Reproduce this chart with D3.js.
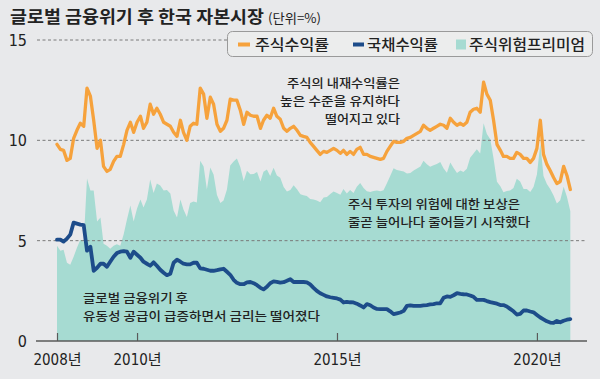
<!DOCTYPE html>
<html><head><meta charset="utf-8">
<script src="https://cdn.jsdelivr.net/npm/d3@7"></script>
<style>
html,body{margin:0;padding:0;background:#e8e9eb;}
svg{display:block;}
text{font-family:"Noto Sans CJK KR","Noto Sans",sans-serif;fill:#222;}
.num{font-family:"Liberation Sans Narrow","DejaVu Sans Condensed","Noto Sans CJK KR",sans-serif;}
</style></head>
<body><svg id="c" width="600" height="379"></svg>
<script>
// ---- data (monthly, Jan 2008 – Nov 2020) ----
const startYear = 2008, startMonth = 0;
const stockYield = [9.8,9.55,9.5,9.0,9.1,10.1,10.5,10.85,10.7,12.6,12.2,11.0,
9.6,10.0,8.7,8.45,8.55,8.95,9.2,9.2,9.8,10.5,10.9,10.4,
10.9,11.2,10.6,10.9,11.8,11.3,11.6,11.3,10.9,10.8,10.7,10.4,
10.2,11.0,10.4,10.0,10.7,10.85,10.8,12.6,12.3,11.1,12.15,11.8,
10.8,10.45,10.6,11.0,12.05,12.0,12.0,11.5,10.8,11.4,11.25,11.2,
11.2,10.6,11.0,11.25,11.1,11.6,11.2,11.05,10.6,10.45,10.6,10.7,
10.5,10.25,10.2,10.15,9.9,9.7,9.5,9.3,9.45,9.4,9.5,9.6,
9.5,9.35,9.5,9.3,9.45,9.3,9.55,9.65,9.3,9.3,9.2,9.15,
9.1,9.05,9.1,9.45,9.7,9.95,9.9,9.9,9.95,10.1,10.15,10.25,
10.35,10.45,10.75,10.6,10.5,10.6,10.7,10.8,10.75,10.6,11.1,10.9,
10.75,10.85,10.75,10.9,11.4,11.55,11.6,11.4,12.9,12.3,12.0,11.0,
9.8,9.5,9.2,9.2,9.1,9.1,9.4,9.3,9.1,9.1,8.9,9.1,
9.6,11.0,9.3,8.8,8.5,8.15,7.85,7.95,8.7,8.25,7.55];
const bondYield = [5.05,5.05,4.95,5.1,5.3,5.9,5.85,5.8,5.77,4.5,4.7,3.5,
3.65,3.85,3.85,3.7,3.95,4.2,4.38,4.45,4.48,4.45,4.15,4.45,
4.3,4.15,3.95,3.85,3.75,3.92,3.75,3.55,3.4,3.28,3.35,3.9,
4.05,3.95,3.85,3.82,3.82,3.9,3.9,3.62,3.6,3.55,3.5,3.5,
3.53,3.57,3.6,3.45,3.3,3.05,2.9,2.83,2.83,2.92,2.94,2.88,
2.78,2.65,2.57,2.7,2.88,2.97,2.95,2.91,2.93,3.0,3.08,2.94,
2.94,2.94,2.94,2.92,2.82,2.65,2.5,2.38,2.3,2.22,2.18,2.15,
2.12,2.06,1.92,1.95,1.93,1.92,1.86,1.77,1.67,1.84,1.78,1.67,
1.6,1.59,1.59,1.59,1.48,1.34,1.38,1.42,1.5,1.75,1.78,1.75,
1.75,1.75,1.77,1.79,1.82,1.84,1.88,1.88,2.15,2.22,2.2,2.28,
2.38,2.35,2.33,2.32,2.27,2.2,2.05,2.05,2.05,1.99,1.94,1.9,
1.86,1.79,1.79,1.72,1.6,1.48,1.32,1.35,1.52,1.52,1.47,1.43,
1.3,1.17,1.08,0.98,0.92,0.9,1.0,0.93,1.01,1.06,1.09];
const riskPremium = [4.75,4.5,4.55,3.9,3.8,4.2,4.65,5.05,4.93,8.1,7.5,7.5,
5.95,6.15,4.85,4.75,4.6,4.75,4.82,4.75,5.32,6.05,6.75,5.95,
6.6,7.05,6.65,7.05,8.05,7.38,7.85,7.75,7.5,7.52,7.35,6.5,
6.15,7.05,6.55,6.18,6.88,6.95,6.9,8.98,8.7,7.55,8.65,8.3,
7.27,6.88,7.0,7.55,8.75,8.95,9.1,8.67,7.97,8.48,8.31,8.32,
8.42,7.95,8.43,8.55,8.22,8.63,8.25,8.14,7.67,7.45,7.52,7.76,
7.56,7.31,7.26,7.23,7.08,7.05,7.0,6.92,7.15,7.18,7.32,7.45,
7.38,7.29,7.58,7.35,7.52,7.38,7.69,7.88,7.63,7.46,7.42,7.48,
7.5,7.46,7.51,7.86,8.22,8.61,8.52,8.48,8.45,8.35,8.37,8.5,
8.6,8.7,8.98,8.81,8.68,8.76,8.82,8.92,8.6,8.38,8.9,8.62,
8.37,8.5,8.42,8.58,9.13,9.35,9.55,9.35,10.85,10.31,10.06,9.1,
7.94,7.71,7.41,7.48,7.5,7.62,8.08,7.95,7.58,7.58,7.43,7.67,
8.3,9.83,8.22,7.82,7.58,7.25,6.85,7.02,7.69,7.19,6.46];
const tickYears = [2008, 2010, 2015, 2020];
const tickLabels = ["2008년", "2010년", "2015년", "2020년"];
const yTicks = [0, 5, 10, 15];
const seriesNames = ["주식수익률", "국채수익률", "주식위험프리미엄"];
const titleText = "글로벌 금융위기 후 한국 자본시장";
const unitText = "(단위=%)";
const note1 = ["주식의 내재수익률은", "높은 수준을 유지하다", "떨어지고 있다"];
const note2 = ["주식 투자의 위험에 대한 보상은", "줄곧 늘어나다 줄어들기 시작했다"];
const note3 = ["글로벌 금융위기 후", "유동성 공급이 급증하면서 금리는 떨어졌다"];

// ---- build ----
const months = stockYield.map((_, i) => new Date(startYear, startMonth + i, 1));
const rows = months.map((d, i) => ({d, s: stockYield[i], b: bondYield[i], p: riskPremium[i]}));

const C = {orange:"#f6a23c", navy:"#1d4c8a", teal:"#a6dbd2", grid:"#7a7a7a", axis:"#5a5a5a"};
const svg = d3.select("#c");
const x = d3.scaleTime().domain([new Date(2008,0,1), new Date(2021,0,1)]).range([57, 577]);
const y = d3.scaleLinear().domain([0, 15]).range([341, 40]);

// area
svg.append("path").datum(rows)
  .attr("d", d3.area().x(r => x(r.d)).y0(y(0)).y1(r => y(r.p)))
  .attr("fill", C.teal);

// gridlines
svg.append("g").selectAll("line").data(yTicks.filter(v => v > 0)).join("line")
  .attr("x1", 37).attr("x2", 587).attr("y1", v => y(v)).attr("y2", v => y(v))
  .attr("stroke", C.grid).attr("stroke-width", 1).attr("stroke-dasharray", "3,2.5");

// y labels
svg.append("g").selectAll("text").data(yTicks).join("text")
  .attr("class","num").attr("x", 27).attr("y", v => y(v)).attr("dy","0.38em")
  .attr("text-anchor","end").attr("font-size", 16).text(v => v);

// x axis
const xAxis = d3.axisBottom(x)
  .tickValues(tickYears.map(yr => new Date(yr,0,1)))
  .tickFormat((d, i) => tickLabels[i])
  .tickSize(-8).tickPadding(13);
const gx = svg.append("g").attr("transform", `translate(0,${y(0)})`).call(xAxis);
gx.select(".domain").remove();
gx.selectAll(".tick line").attr("stroke", C.axis).attr("stroke-width", 1.2);
gx.selectAll(".tick text").attr("class","num").attr("font-size", 15).attr("fill","#222")
  .attr("font-family",'"Liberation Sans Narrow","Noto Sans CJK KR",sans-serif');
svg.append("line").attr("x1", 36).attr("x2", 587).attr("y1", y(0)).attr("y2", y(0))
  .attr("stroke", C.axis).attr("stroke-width", 1.5);

// lines
svg.append("path").datum(rows)
  .attr("d", d3.line().x(r => x(r.d)).y(r => y(r.s)))
  .attr("fill","none").attr("stroke", C.orange).attr("stroke-width", 3.3)
  .attr("stroke-linejoin","round").attr("stroke-linecap","round");
svg.append("path").datum(rows)
  .attr("d", d3.line().x(r => x(r.d)).y(r => y(r.b)))
  .attr("fill","none").attr("stroke", C.navy).attr("stroke-width", 3.8)
  .attr("stroke-linejoin","round").attr("stroke-linecap","round");

// title
svg.append("text").attr("x", 10).attr("y", 23).attr("font-size", 17).attr("font-weight", 700)
  .attr("textLength", 254).attr("lengthAdjust","spacingAndGlyphs").text(titleText);
svg.append("text").attr("x", 268).attr("y", 23).attr("font-size", 13)
  .attr("textLength", 53).attr("lengthAdjust","spacingAndGlyphs").attr("fill","#333").text(unitText);

// legend
const lg = svg.append("g");
lg.append("rect").attr("x", 227.5).attr("y", 31.5).attr("width", 365).attr("height", 25).attr("rx", 5)
  .attr("fill", "#eceded").attr("stroke", "#9a9a9a").attr("stroke-width", 1);
lg.append("rect").attr("x", 238).attr("y", 42.5).attr("width", 12).attr("height", 4).attr("fill", C.orange);
lg.append("rect").attr("x", 353).attr("y", 42.5).attr("width", 11).attr("height", 4).attr("fill", C.navy);
lg.append("rect").attr("x", 456).attr("y", 39.5).attr("width", 10).attr("height", 10).attr("fill", C.teal);
const legX = [255, 367, 469], legW = [74, 71, 116];
lg.selectAll("text.lt").data(seriesNames).join("text").attr("class","lt")
  .attr("x", (d,i) => legX[i]).attr("y", 50).attr("font-size", 15).attr("font-weight", 500)
  .attr("textLength", (d,i) => legW[i]).attr("lengthAdjust","spacingAndGlyphs").text(d => d);

// annotations
function note(lines, xs, ys, ws) {
  svg.append("g").selectAll("text").data(lines).join("text")
    .attr("x", (d,i) => xs[i]).attr("y", (d,i) => ys[i]).attr("font-size", 12).attr("font-weight", 500)
    .attr("textLength", (d,i) => ws[i]).attr("lengthAdjust","spacingAndGlyphs").text(d => d);
}
note(note1, [287, 280, 325], [88, 106, 124], [113, 120, 75]);
note(note2, [348, 348], [209, 227], [172, 182]);
note(note3, [83, 83], [303, 321], [105, 237]);
</script></body></html>
